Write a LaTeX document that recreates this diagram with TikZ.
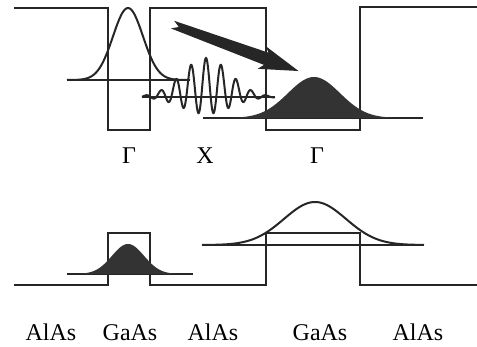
\documentclass[tikz,border=0pt]{standalone}
\usepackage{fontspec}
\setmainfont{Liberation Serif}

\begin{document}
\begin{tikzpicture}[x=1pt,y=-1pt,line join=miter]
  \tikzset{
    band/.style={line width=1.6pt,draw=black!85},
    level/.style={line width=1.2pt,draw=black!85},
    psi/.style={line width=2pt,draw=black!85},
    dens/.style={fill=black!80},
    lbl/.style={font=\fontsize{24}{28}\selectfont,anchor=base,inner sep=0pt}
  }
  \useasboundingbox (0,0) rectangle (477,346);

  % ================= Gamma band edge (top) =================
  \draw[band] (14,8) -- (108,8) -- (108,130) -- (150,130) -- (150,8)
    -- (266,8) -- (266,130) -- (360,130) -- (360,7) -- (477,7);

  % ================= X band edge (bottom) =================
  \draw[band] (14,285) -- (108,285) -- (108,233) -- (150,233) -- (150,285)
    -- (266,285) -- (266,233) -- (360,233) -- (360,285) -- (477,285);

  % ================= levels =================
  \draw[level] (67,80) -- (190,80);
  \draw[level] (142,97) -- (275,97);
  \draw[level] (203,118) -- (423,118);
  \draw[level] (67,274) -- (193,274);
  \draw[level] (202,245) -- (424,245);

  % ================= wave functions (top) =================
  \draw[psi] plot[domain=67:190,samples=120]
    (\x,{80-72*exp(-((\x-128)*(\x-128))/450)});
  \draw[psi] plot[domain=142:275,samples=400]
    (\x,{97-(28*cos(24*(\x-206))+11)*exp(-((\x-206)*(\x-206))/1152)});
  \fill[dens] plot[domain=203:423,samples=150]
    (\x,{118-41*exp(-((\x-314)*(\x-314))/1352)}) -- cycle;

  % transfer arrow
  \fill[black!85] (298.5,71) -- (265.8,46.2) -- (268.5,52.7) -- (174.2,20.8)
    -- (178.8,27.0) -- (170.9,28.4) -- (264.0,64.9) -- (257.7,68.8) -- cycle;

  % ================= wave functions (bottom) =================
  \fill[dens] plot[domain=67:193,samples=120]
    (\x,{274-30*exp(-((\x-128)*(\x-128))/512)}) -- cycle;
  \draw[psi] plot[domain=202:424,samples=150]
    (\x,{245-43*exp(-((\x-315)*(\x-315))/1922)});

  % ================= labels =================
  \node[lbl] (gamA) at (129,163) {Γ};
  \node[lbl] (xpt)  at (205,163) {X};
  \node[lbl] (gamB) at (317,163) {Γ};
  \foreach \lx/\lt/\nm in {51/AlAs/barA,130/GaAs/wellA,213/AlAs/barB,320/GaAs/wellB,418/AlAs/barC}
    \node[lbl] (\nm) at (\lx,340) {\lt};
\end{tikzpicture}
\end{document}
